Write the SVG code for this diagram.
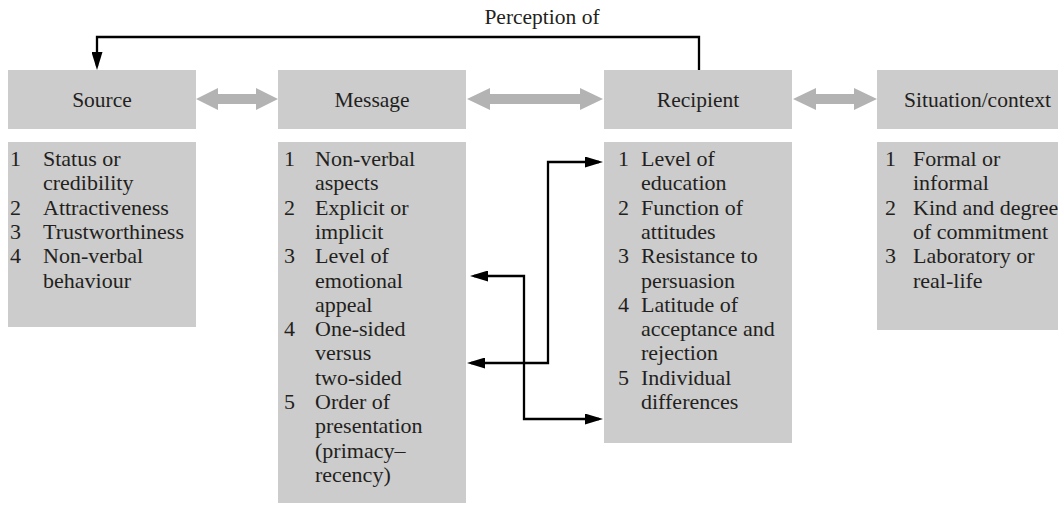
<svg xmlns="http://www.w3.org/2000/svg" width="1058" height="505" viewBox="0 0 1058 505">
  <style>
    .box { fill: #cccccc; }
    .head { font-family: "Liberation Serif", "Times New Roman", serif; font-size: 21.5px; fill: #231f20; }
    .item { font-family: "Liberation Serif", "Times New Roman", serif; font-size: 22px; fill: #231f20; }
    .wide { fill: #b3b3b3; }
    .link { fill: none; stroke: #000000; stroke-width: 2.3; }
  </style>
  <defs>
    <marker id="tip" markerUnits="userSpaceOnUse" markerWidth="18" markerHeight="11" refX="14" refY="5.5" orient="auto-start-reverse">
      <path d="M0,0 L18,5.5 L0,11 z" fill="#000000"/>
    </marker>
  </defs>

  <rect width="1058" height="505" fill="#ffffff"/>

  <!-- Source -->
  <g id="source">
    <rect class="box" x="8" y="70" width="188" height="59"/>
    <text class="head" x="102" y="107" text-anchor="middle">Source</text>
    <rect class="box" x="8" y="142" width="188" height="185"/>
    <g class="item">
      <text x="10" y="166">1</text><text x="43" y="166">Status or</text>
      <text x="43" y="190.3">credibility</text>
      <text x="10" y="214.6">2</text><text x="43" y="214.6">Attractiveness</text>
      <text x="10" y="238.9">3</text><text x="43" y="238.9">Trustworthiness</text>
      <text x="10" y="263.2">4</text><text x="43" y="263.2">Non-verbal</text>
      <text x="43" y="287.5">behaviour</text>
    </g>
  </g>

  <!-- Message -->
  <g id="message">
    <rect class="box" x="278" y="70" width="188" height="59"/>
    <text class="head" x="372" y="107" text-anchor="middle">Message</text>
    <rect class="box" x="278" y="142" width="188" height="361"/>
    <g class="item">
      <text x="284" y="166">1</text><text x="315" y="166">Non-verbal</text>
      <text x="315" y="190.3">aspects</text>
      <text x="284" y="214.6">2</text><text x="315" y="214.6">Explicit or</text>
      <text x="315" y="238.9">implicit</text>
      <text x="284" y="263.2">3</text><text x="315" y="263.2">Level of</text>
      <text x="315" y="287.5">emotional</text>
      <text x="315" y="311.8">appeal</text>
      <text x="284" y="336.1">4</text><text x="315" y="336.1">One-sided</text>
      <text x="315" y="360.4">versus</text>
      <text x="315" y="384.7">two-sided</text>
      <text x="284" y="409">5</text><text x="315" y="409">Order of</text>
      <text x="315" y="433.3">presentation</text>
      <text x="315" y="457.6">(primacy–</text>
      <text x="315" y="481.9">recency)</text>
    </g>
  </g>

  <!-- Recipient -->
  <g id="recipient">
    <rect class="box" x="604" y="70" width="188" height="59"/>
    <text class="head" x="698" y="107" text-anchor="middle">Recipient</text>
    <rect class="box" x="604" y="142" width="188" height="301"/>
    <g class="item">
      <text x="618" y="166">1</text><text x="641" y="166">Level of</text>
      <text x="641" y="190.3">education</text>
      <text x="618" y="214.6">2</text><text x="641" y="214.6">Function of</text>
      <text x="641" y="238.9">attitudes</text>
      <text x="618" y="263.2">3</text><text x="641" y="263.2">Resistance to</text>
      <text x="641" y="287.5">persuasion</text>
      <text x="618" y="311.8">4</text><text x="641" y="311.8">Latitude of</text>
      <text x="641" y="336.1">acceptance and</text>
      <text x="641" y="360.4">rejection</text>
      <text x="618" y="384.7">5</text><text x="641" y="384.7">Individual</text>
      <text x="641" y="409">differences</text>
    </g>
  </g>

  <!-- Situation/context -->
  <g id="situation">
    <rect class="box" x="877" y="70" width="181" height="59"/>
    <text class="head" x="904" y="107">Situation/context</text>
    <rect class="box" x="877" y="142" width="181" height="188"/>
    <g class="item">
      <text x="885" y="166">1</text><text x="913" y="166">Formal or</text>
      <text x="913" y="190.3">informal</text>
      <text x="885" y="214.6">2</text><text x="913" y="214.6">Kind and degree</text>
      <text x="913" y="238.9">of commitment</text>
      <text x="885" y="263.2">3</text><text x="913" y="263.2">Laboratory or</text>
      <text x="913" y="287.5">real-life</text>
    </g>
  </g>

  <!-- Connectors -->
  <g id="connectors">
    <!-- two-way links between header boxes -->
    <path class="wide" d="M196,99 L218,88 L218,94 L256,94 L256,88 L278,99 L256,110 L256,104 L218,104 L218,110 z"/>
    <path class="wide" d="M467,99 L490,88 L490,94 L580,94 L580,88 L603,99 L580,110 L580,104 L490,104 L490,110 z"/>
    <path class="wide" d="M793,99 L816,88 L816,94 L854,94 L854,88 L877,99 L854,110 L854,104 L816,104 L816,110 z"/>

    <!-- perception feedback from recipient to source -->
    <path class="link" d="M699,70 L699,37 L97,37 L97,66" marker-end="url(#tip)"/>
    <text class="head" x="542" y="24" text-anchor="middle">Perception of</text>

    <!-- message items linked to recipient items -->
    <path class="link" d="M471,363 L548,363 L548,162 L599,162" marker-start="url(#tip)" marker-end="url(#tip)"/>
    <path class="link" d="M474,276 L524,276 L524,419 L599,419" marker-start="url(#tip)" marker-end="url(#tip)"/>
  </g>
</svg>
